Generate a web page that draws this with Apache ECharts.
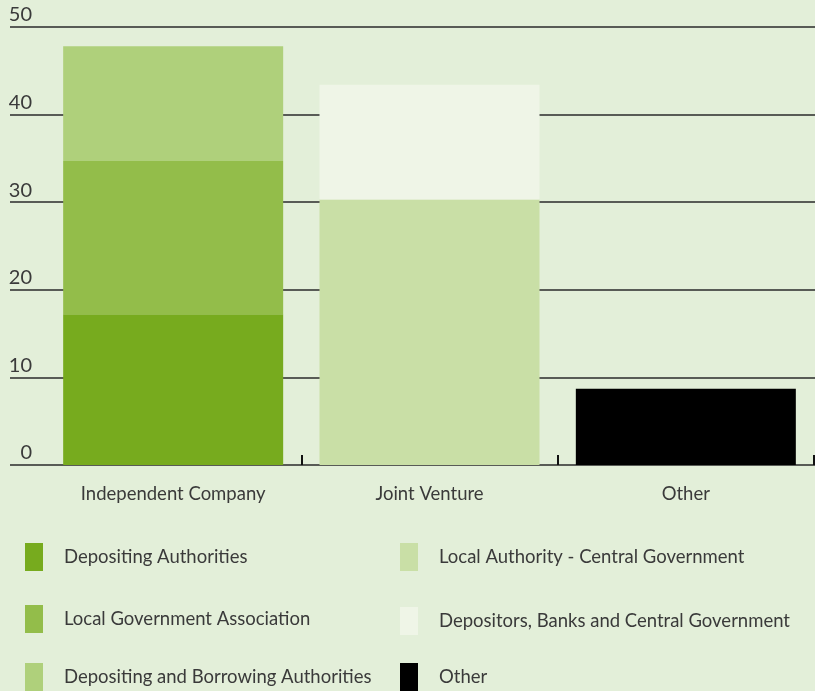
<!DOCTYPE html>
<html>
<head>
<meta charset="utf-8">
<script src="https://cdn.jsdelivr.net/npm/echarts@6/dist/echarts.min.js"></script>
<style>
  html, body { margin: 0; padding: 0; background: #e3efd9; }
  #chart { width: 815px; height: 691px; }
</style>
</head>
<body>
<div id="chart"></div>
<script>
// Ownership categories along the x axis
const categories = ['Independent Company', 'Joint Venture', 'Other'];

// Stacked segments per category (null where a segment does not apply)
const depositingAuthorities = [17.2, null, null];
const localGovernmentAssociation = [17.5, null, null];
const depositingBorrowingAuthorities = [13.1, null, null];
const localAuthorityCentralGov = [null, 30.3, null];
const depositorsBanksCentralGov = [null, 13.1, null];
const otherOwners = [null, null, 8.7];

const yTicks = [0, 10, 20, 30, 40, 50];

const seriesNames = [
  'Depositing Authorities',
  'Local Government Association',
  'Depositing and Borrowing Authorities',
  'Local Authority - Central Government',
  'Depositors, Banks and Central Government',
  'Other'
];
const seriesColors = ['#77ab1e', '#93bd4a', '#afd07b', '#c9dfa6', '#eff5e7', '#000000'];
const seriesData = [
  depositingAuthorities,
  localGovernmentAssociation,
  depositingBorrowingAuthorities,
  localAuthorityCentralGov,
  depositorsBanksCentralGov,
  otherOwners
];

const FONT = 'Lato, "Open Sans", sans-serif';
const TEXT = '#3a3a3a';

const chart = echarts.init(document.getElementById('chart'));

// one legend entry per component so each row can be placed on its own
const legendSlots = [
  { left: 25, top: 543 },
  { left: 25, top: 605 },
  { left: 25, top: 663 },
  { left: 400, top: 543 },
  { left: 400, top: 607 },
  { left: 400, top: 663 }
];
const legends = seriesNames.map((name, k) => ({
  left: legendSlots[k].left,
  top: legendSlots[k].top,
  padding: 0,
  itemWidth: 18,
  itemHeight: 28,
  icon: 'rect',
  selectedMode: false,
  data: [name],
  textStyle: { fontFamily: FONT, fontSize: 18.5, color: TEXT, padding: [6, 0, 0, 16] }
}));

chart.setOption({
  backgroundColor: '#e3efd9',
  animation: false,
  legend: legends,
  grid: [
    // wide grid carrying the horizontal rules and value labels
    { left: 10, right: 0, top: 27, bottom: 226 },
    // plotting grid for the bars
    { left: 45, right: 1, top: 27, bottom: 226 }
  ],
  xAxis: [
    { type: 'value', gridIndex: 0, show: false, min: 0, max: 1 },
    {
      type: 'category',
      gridIndex: 1,
      data: categories,
      boundaryGap: true,
      axisLine: { show: false },
      axisTick: {
        show: true,
        inside: true,
        length: 10,
        interval: (i) => i > 0,
        lineStyle: { color: '#111', width: 2 }
      },
      axisLabel: { fontFamily: FONT, fontSize: 18.5, color: TEXT, margin: 20 }
    }
  ],
  yAxis: [
    {
      type: 'value',
      gridIndex: 0,
      min: yTicks[0],
      max: yTicks[yTicks.length - 1],
      interval: 10,
      axisLine: { show: false },
      axisTick: { show: false },
      splitLine: { show: true, lineStyle: { color: '#2a2a2a', width: 1.5 } },
      axisLabel: {
        inside: true,
        margin: 22,
        align: 'right',
        verticalAlign: 'bottom',
        padding: [0, 0, 2, 0],
        fontFamily: FONT,
        fontSize: 20,
        color: TEXT
      }
    },
    {
      type: 'value',
      gridIndex: 1,
      min: yTicks[0],
      max: yTicks[yTicks.length - 1],
      interval: 10,
      show: false,
      splitLine: { show: false }
    }
  ],
  series: seriesNames.map((name, k) => ({
    name: name,
    type: 'bar',
    xAxisIndex: 1,
    yAxisIndex: 1,
    stack: 'total',
    barWidth: 220,
    itemStyle: { color: seriesColors[k] },
    data: seriesData[k]
  }))
});
</script>
</body>
</html>
